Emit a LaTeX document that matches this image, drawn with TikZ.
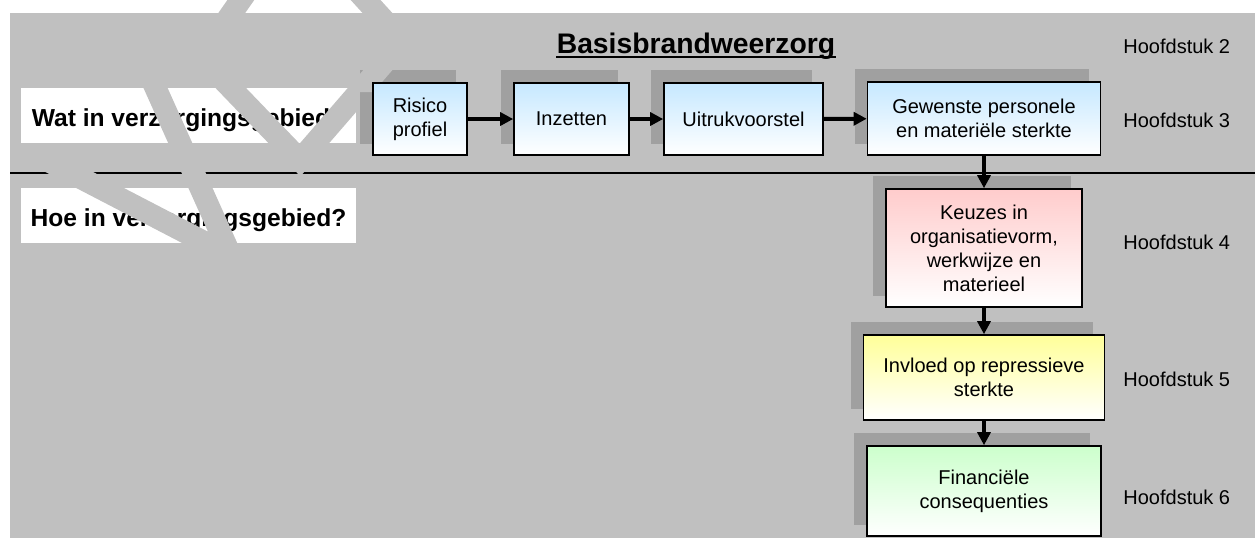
\documentclass[tikz,border=0pt]{standalone}
\usepackage{fontspec}
\setmainfont{Liberation Sans}
\usetikzlibrary{arrows.meta}
\definecolor{panelgray}{HTML}{C0C0C0}
\definecolor{shadowgray}{HTML}{A0A0A0}
\definecolor{topblue}{HTML}{C6E8FF}
\definecolor{toppink}{HTML}{FFCCCC}
\definecolor{topyellow}{HTML}{FFFF99}
\definecolor{topgreen}{HTML}{CCFFCC}
\pgfdeclarelayer{back}
\pgfdeclarelayer{strokes}
\pgfsetlayers{back,strokes,main}

\begin{document}
\begin{tikzpicture}[x=0.5pt, y=-0.5pt,
    stepbox/.style={draw, line width=0.8pt, inner sep=0pt, align=center,
      font=\fontsize{10}{12}\selectfont, bottom color=white, top color=#1},
    question/.style={fill=white, inner sep=0pt, minimum width=167.5pt,
      minimum height=27.5pt, text height=10.8pt, text depth=0pt,
      font=\fontsize{12.3}{15}\selectfont\bfseries},
    chapter/.style={anchor=west, inner sep=0pt, text height=7.2pt,
      text depth=0pt, font=\fontsize{10}{12}\selectfont},
    flow/.style={line width=2pt, -{Triangle[length=6.5pt, width=6.5pt]}},
    scribble/.style={draw=panelgray, line width=11pt, line join=miter}]
  \useasboundingbox (0,0) rectangle (1255,538);

  \node[stepbox=topblue, minimum width=47pt, minimum height=36pt] (risico) at (420,119) {Risico\\profiel};
  \node[stepbox=topblue, minimum width=57.5pt, minimum height=36pt] (inzetten) at (571.5,119) {Inzetten};
  \node[stepbox=topblue, minimum width=79.5pt, minimum height=36pt] (uitruk) at (743.5,119) {Uitrukvoorstel};
  \node[stepbox=topblue, minimum width=116.5pt, minimum height=36.5pt] (gewenst) at (984,118.5) {Gewenste personele\\en materiële sterkte};
  \node[stepbox=toppink, minimum width=98pt, minimum height=59pt] (keuzes) at (984,248) {Keuzes in\\organisatievorm,\\werkwijze en\\materieel};
  \node[stepbox=topyellow, minimum width=120.5pt, minimum height=42.5pt] (invloed) at (984,377.5) {Invloed op repressieve\\sterkte};
  \node[stepbox=topgreen, minimum width=117pt, minimum height=45pt] (financieel) at (984,491) {Financiële\\consequenties};

  \begin{pgfonlayer}{back}
    \fill[white] (0,0) rectangle (1255,538);
    \fill[panelgray] (10,13) rectangle (1255,538);
    \draw[line width=0.8pt] (10,173) -- (1255,173);
    \node[question] (wat) at (188.5,115.5) {Wat in verzorgingsgebied?};
    \node[question] (hoe) at (188.5,215.75) {Hoe in verzorgingsgebied?};
    \foreach \b in {risico,inzetten,uitruk,gewenst,keuzes,invloed,financieel}
      \fill[shadowgray] ([shift={(-12,-12)}]\b.south west) rectangle ([shift={(-12,-12)}]\b.north east);
  \end{pgfonlayer}

  \begin{pgfonlayer}{strokes}
    \begin{scope}
      \clip (0,0) rectangle (1255,13) (wat.south west) rectangle (wat.north east)
            (hoe.south west) rectangle (hoe.north east) (10,170) rectangle (400,176)
            (360,68) rectangle (470,92);
      \draw[scribble] (50,162) -- (231,256) -- (134,40);
      \draw[scribble] (252,-16) -- (201,57) -- (300,160) -- (403,41) -- (351,-16);
    \end{scope}
  \end{pgfonlayer}

  \draw[flow] (risico) -- (inzetten);
  \draw[flow] (inzetten) -- (uitruk);
  \draw[flow] (uitruk) -- (gewenst);
  \draw[flow] (gewenst) -- (keuzes);
  \draw[flow] (keuzes) -- (invloed);
  \draw[flow] (invloed) -- (financieel);

  \node[inner sep=0pt, anchor=base, font=\fontsize{14.15}{17}\selectfont\bfseries] (title) at (696,53) {Basisbrandweerzorg};
  \draw[line width=1pt] ([yshift=-2pt]title.base west) -- ([yshift=-2pt]title.base east);

  \node[chapter] (h2) at (1123,46) {Hoofdstuk 2};
  \node[chapter] (h3) at (1123,120) {Hoofdstuk 3};
  \node[chapter] (h4) at (1123,242.5) {Hoofdstuk 4};
  \node[chapter] (h5) at (1123,379.5) {Hoofdstuk 5};
  \node[chapter] (h6) at (1123,497.5) {Hoofdstuk 6};
\end{tikzpicture}
\end{document}
